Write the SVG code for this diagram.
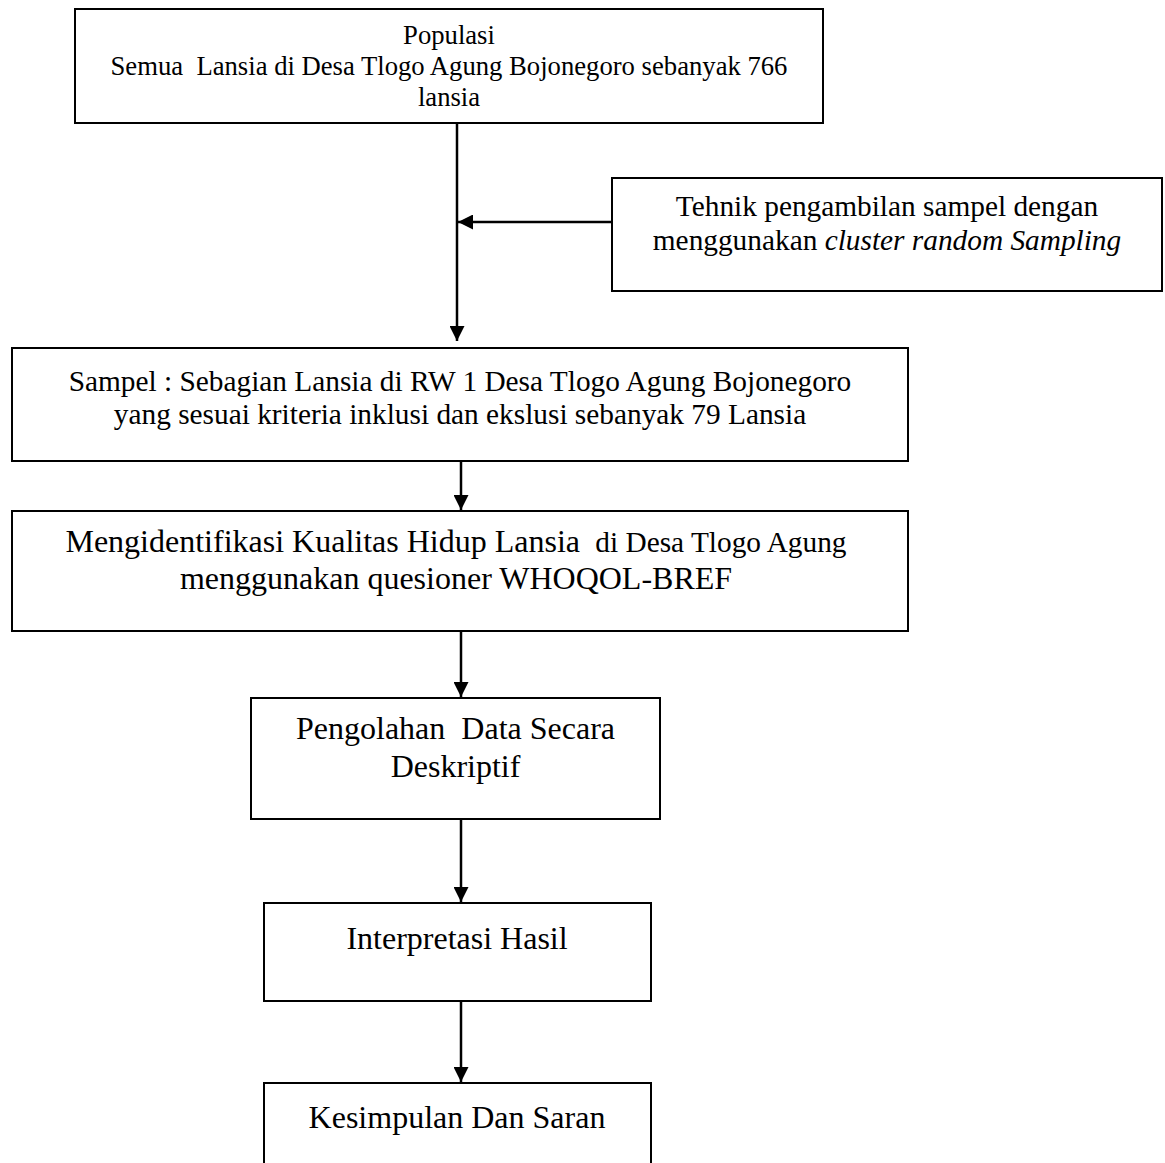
<svg xmlns="http://www.w3.org/2000/svg" width="1165" height="1163" viewBox="0 0 1165 1163">
<defs>
<style>
.box{fill:#fff;stroke:#000;stroke-width:2}
.t{font-family:"Liberation Serif","Times New Roman",serif;fill:#000;text-anchor:middle}
.s20{font-size:26.67px}
.s22{font-size:29.33px}
.s24{font-size:32px}
.ln{stroke:#000;stroke-width:2.5;fill:none}
</style>
<marker id="ah" markerUnits="userSpaceOnUse" markerWidth="16" markerHeight="15" refX="15" refY="7.5" orient="auto">
<path d="M0,0 L15,7.5 L0,15 Z" fill="#000"/>
</marker>
</defs>
<rect width="1165" height="1163" fill="#fff"/>
<g id="populasi">
<rect class="box" x="75" y="9" width="748" height="114"/>
<text class="t s20" x="449" y="44">Populasi</text>
<text class="t s20" x="449" y="75" xml:space="preserve">Semua  Lansia di Desa Tlogo Agung Bojonegoro sebanyak 766</text>
<text class="t s20" x="449" y="106">lansia</text>
</g>
<g id="teknik">
<rect class="box" x="612" y="178" width="550" height="113"/>
<text class="t s22" x="887" y="216">Tehnik pengambilan sampel dengan</text>
<text class="t s22" x="887" y="250">menggunakan <tspan font-style="italic">cluster random Sampling</tspan></text>
</g>
<g id="sampel">
<rect class="box" x="12" y="348" width="896" height="113"/>
<text class="t s22" x="460" y="391">Sampel : Sebagian Lansia di RW 1 Desa Tlogo Agung Bojonegoro</text>
<text class="t s22" x="460" y="424">yang sesuai kriteria inklusi dan ekslusi sebanyak 79 Lansia</text>
</g>
<g id="identifikasi">
<rect class="box" x="12" y="511" width="896" height="120"/>
<text class="t s24" x="456" y="552" xml:space="preserve">Mengidentifikasi Kualitas Hidup Lansia <tspan class="s22"> di Desa Tlogo Agung</tspan></text>
<text class="t s24" x="456" y="589">menggunakan quesioner WHOQOL-BREF</text>
</g>
<g id="pengolahan">
<rect class="box" x="251" y="698" width="409" height="121"/>
<text class="t s24" x="455.5" y="739" xml:space="preserve">Pengolahan  Data Secara</text>
<text class="t s24" x="455.5" y="777">Deskriptif</text>
</g>
<g id="interpretasi">
<rect class="box" x="264" y="903" width="387" height="98"/>
<text class="t s24" x="457" y="949">Interpretasi Hasil</text>
</g>
<g id="kesimpulan">
<rect class="box" x="264" y="1083" width="387" height="100"/>
<text class="t s24" x="457" y="1128">Kesimpulan Dan Saran</text>
</g>
<g id="connectors">
<line class="ln" x1="457" y1="123" x2="457" y2="341" marker-end="url(#ah)"/>
<line class="ln" x1="612" y1="222" x2="458" y2="222" marker-end="url(#ah)"/>
<line class="ln" x1="461" y1="461" x2="461" y2="510" marker-end="url(#ah)"/>
<line class="ln" x1="461" y1="631" x2="461" y2="697" marker-end="url(#ah)"/>
<line class="ln" x1="461" y1="819" x2="461" y2="902" marker-end="url(#ah)"/>
<line class="ln" x1="461" y1="1001" x2="461" y2="1082" marker-end="url(#ah)"/>
</g>
</svg>
